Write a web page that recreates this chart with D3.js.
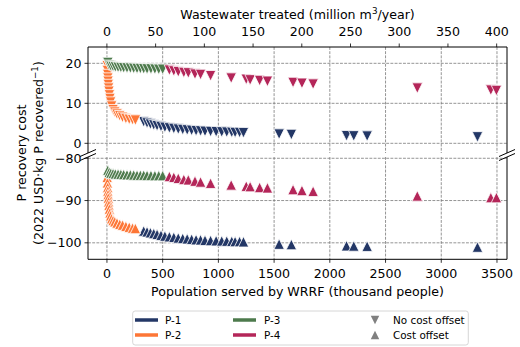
<!DOCTYPE html>
<html>
<head>
<meta charset="utf-8">
<script src="https://cdn.jsdelivr.net/npm/d3@7"></script>
<style>
  html, body { margin: 0; padding: 0; background: #fff; }
  svg text { font-family: "DejaVu Sans", sans-serif; fill: #000; }
</style>
</head>
<body>
<svg id="chart" width="520" height="347"></svg>
<script>
// Technology colours and legend labels
const techNames = ["P-1", "P-2", "P-3", "P-4"];
const techColors = ["#233766", "#fd7636", "#4d7a4c", "#b42659"];

// Population served (thousand people) per facility, by technology
const popP1 = [330, 360, 390, 420, 450, 485, 520, 560, 600, 640, 680, 720, 760, 800, 840, 880, 930, 980, 1030, 1075, 1120, 1150, 1190, 1225, 1545, 1655, 2150, 2215, 2335, 3325];
const popP2 = [2, 4, 6, 8, 10, 12, 15, 18, 22, 27, 33, 42, 55, 70, 90, 115, 140, 170, 200, 230, 255];
const popP3 = [8, 20, 35, 55, 75, 100, 125, 150, 180, 210, 240, 270, 300, 330, 360, 395, 430, 465, 500];
const popP4 = [560, 600, 640, 690, 730, 790, 840, 930, 1115, 1250, 1285, 1370, 1440, 1670, 1750, 1850, 2785, 3445, 3495];

// P recovery cost without cost offset (2022 USD per kg P)
const costP1 = [5.4, 5.1, 4.8, 4.6, 4.4, 4.2, 4.0, 3.85, 3.7, 3.55, 3.45, 3.35, 3.25, 3.15, 3.1, 3.0, 2.95, 2.9, 2.85, 2.8, 2.75, 2.7, 2.7, 2.65, 2.3, 2.2, 1.9, 1.85, 1.8, 1.6];
const costP2 = [19.4, 18.2, 17.2, 16.3, 15.5, 14.7, 13.8, 13.0, 12.1, 11.2, 10.3, 9.3, 8.4, 7.8, 7.3, 6.9, 6.5, 6.2, 6.0, 5.9, 5.8];
const costP3 = [20.2, 19.5, 19.3, 19.2, 19.1, 19.0, 18.95, 18.9, 18.85, 18.8, 18.75, 18.7, 18.7, 18.65, 18.6, 18.6, 18.55, 18.5, 18.5];
const costP4 = [18.3, 18.1, 17.9, 17.7, 17.6, 17.3, 17.2, 16.9, 16.3, 16.0, 15.85, 15.7, 15.5, 15.2, 15.0, 14.8, 13.8, 13.3, 13.2];

// P recovery cost with cost offset (2022 USD per kg P)
const offsetP1 = [-97.2, -97.4, -97.6, -97.8, -98.0, -98.2, -98.4, -98.55, -98.7, -98.85, -98.95, -99.05, -99.15, -99.25, -99.3, -99.4, -99.45, -99.5, -99.55, -99.6, -99.65, -99.7, -99.7, -99.75, -100.3, -100.4, -100.7, -100.75, -100.8, -101.0];
const offsetP2 = [-84.5, -85.8, -86.9, -87.8, -88.6, -89.4, -90.3, -91.1, -92.0, -92.9, -93.6, -94.3, -94.7, -95.0, -95.3, -95.6, -95.8, -96.1, -96.3, -96.5, -96.6];
const offsetP3 = [-82.8, -83.3, -83.5, -83.6, -83.7, -83.75, -83.8, -83.85, -83.9, -83.9, -83.95, -84.0, -84.0, -84.0, -84.05, -84.05, -84.1, -84.1, -84.1];
const offsetP4 = [-84.3, -84.5, -84.75, -85.0, -85.1, -85.4, -85.6, -85.9, -86.3, -86.6, -86.7, -86.9, -87.0, -87.4, -87.6, -87.8, -88.9, -89.3, -89.3];

// Axis ticks
const popTicks = [0, 500, 1000, 1500, 2000, 2500, 3000, 3500];
const flowTicks = [0, 50, 100, 150, 200, 250, 300, 350, 400];
const upperTicks = [0, 10, 20];
const lowerTicks = [-100, -90, -80];

const pops = [popP1, popP2, popP3, popP4];
const costs = [costP1, costP2, costP3, costP4];
const offsets = [offsetP1, offsetP2, offsetP3, offsetP4];

const svg = d3.select("#chart");
const L = 88, R = 507;
const upTop = 47, upBot = 153, loTop = 157, loBot = 259.3;

const x = d3.scaleLinear().domain([-170, 3590]).range([L, R]);
const xFlow = d3.scaleLinear().domain([-19.4, 410.6]).range([L, R]);
const yUp = d3.scaleLinear().domain([-2.42, 24.08]).range([upBot, upTop]);
const yLo = d3.scaleLinear().domain([-103.9, -79.7]).range([loBot, loTop]);

const minus = s => String(s).replace("-", "\u2212");
const gridStyle = g => g.attr("stroke", "#7a7a7a").attr("stroke-width", 0.8).attr("stroke-dasharray", "2.9,1.3");

// Grid lines in both panels
[[upTop, upBot, yUp, upperTicks], [loTop, loBot, yLo, lowerTicks]].forEach(([t, b, ys, ticks]) => {
  const g = svg.append("g");
  g.selectAll("line.v").data(popTicks).join("line")
    .attr("x1", d => x(d)).attr("x2", d => x(d)).attr("y1", t).attr("y2", b).call(gridStyle);
  g.selectAll("line.h").data(ticks).join("line")
    .attr("x1", L).attr("x2", R).attr("y1", d => ys(d)).attr("y2", d => ys(d)).call(gridStyle);
});

// Triangle markers
const tri = (s, down) => {
  const h = s / 2;
  return down ? `M0,${h}L${-h},${-h}L${h},${-h}Z` : `M0,${-h}L${-h},${h}L${h},${h}Z`;
};
const mSize = 10.5;

const plot = svg.append("g");
techNames.forEach((name, i) => {
  const upData = pops[i].map((p, j) => [p, costs[i][j]]);
  const loData = pops[i].map((p, j) => [p, offsets[i][j]]);
  plot.append("g").selectAll("path").data(upData).join("path")
    .attr("d", tri(mSize, true))
    .attr("transform", d => `translate(${x(d[0])},${yUp(d[1])})`)
    .attr("fill", techColors[i]).attr("stroke", "#fff").attr("stroke-width", 0.8);
  plot.append("g").selectAll("path").data(loData).join("path")
    .attr("d", tri(mSize, false))
    .attr("transform", d => `translate(${x(d[0])},${yLo(d[1])})`)
    .attr("fill", techColors[i]).attr("stroke", "#fff").attr("stroke-width", 0.8);
});

// Frames (broken axis: no spine between the two panels)
svg.append("path").attr("d", `M${L},${upBot}V${upTop}H${R}V${upBot}`)
  .attr("fill", "none").attr("stroke", "#000").attr("stroke-width", 1);
svg.append("path").attr("d", `M${L},${loTop}V${loBot}H${R}V${loTop}`)
  .attr("fill", "none").attr("stroke", "#000").attr("stroke-width", 1);

// Break marks
[[L, upBot], [R, upBot], [L, loTop], [R, loTop]].forEach(([cx, cy]) => {
  svg.append("line").attr("x1", cx - 8).attr("y1", cy + 3.5).attr("x2", cx + 8).attr("y2", cy - 3.5)
    .attr("stroke", "#000").attr("stroke-width", 1);
});

const fs = 12.6;
// Y axes
[[yUp, upperTicks], [yLo, lowerTicks]].forEach(([ys, ticks]) => {
  const g = svg.append("g");
  g.selectAll("line").data(ticks).join("line")
    .attr("x1", L - 3.5).attr("x2", L).attr("y1", d => ys(d)).attr("y2", d => ys(d))
    .attr("stroke", "#000").attr("stroke-width", 0.8);
  g.selectAll("text").data(ticks).join("text")
    .attr("x", L - 6.5).attr("y", d => ys(d)).attr("dy", "0.36em")
    .attr("text-anchor", "end").attr("font-size", fs).text(d => minus(d));
});

// Bottom x axis: population
const bx = svg.append("g");
bx.selectAll("line").data(popTicks).join("line")
  .attr("x1", d => x(d)).attr("x2", d => x(d)).attr("y1", loBot).attr("y2", loBot + 3.5)
  .attr("stroke", "#000").attr("stroke-width", 0.8);
bx.selectAll("text").data(popTicks).join("text")
  .attr("x", d => x(d)).attr("y", 277.8).attr("text-anchor", "middle").attr("font-size", fs).text(d => d);
svg.append("text").attr("x", (L + R) / 2).attr("y", 296.3).attr("text-anchor", "middle")
  .attr("font-size", fs).text("Population served by WRRF (thousand people)");

// Top x axis: wastewater flow
const tx = svg.append("g");
tx.selectAll("line").data(flowTicks).join("line")
  .attr("x1", d => xFlow(d)).attr("x2", d => xFlow(d)).attr("y1", upTop - 3.5).attr("y2", upTop)
  .attr("stroke", "#000").attr("stroke-width", 0.8);
tx.selectAll("text").data(flowTicks).join("text")
  .attr("x", d => xFlow(d)).attr("y", 36.3).attr("text-anchor", "middle").attr("font-size", fs).text(d => d);
const tt = svg.append("text").attr("x", (L + R) / 2).attr("y", 19.3).attr("text-anchor", "middle").attr("font-size", fs);
tt.append("tspan").text("Wastewater treated (million m");
tt.append("tspan").attr("font-size", 8.8).attr("dy", -5).text("3");
tt.append("tspan").attr("dy", 5).text("/year)");

// Y axis title (two lines)
const yl = svg.append("g").attr("transform", `translate(0,153) rotate(-90)`);
yl.append("text").attr("x", 0).attr("y", 26.3).attr("text-anchor", "middle").attr("font-size", fs).text("P recovery cost");
const yl2 = yl.append("text").attr("x", 0).attr("y", 42.5).attr("text-anchor", "middle").attr("font-size", fs);
yl2.append("tspan").text("(2022 USD\u00b7kg P recovered");
yl2.append("tspan").attr("font-size", 8.8).attr("dy", -5).text("\u22121");
yl2.append("tspan").attr("dy", 5).text(")");

// Legend
const lg = svg.append("g");
lg.append("rect").attr("x", 132.7).attr("y", 311).attr("width", 335.6).attr("height", 34).attr("rx", 2.5)
  .attr("fill", "#fff").attr("stroke", "#cccccc").attr("stroke-width", 0.8);
const lgFs = 10.4;
const lgCols = [[135, 165], [233, 264]];
techNames.forEach((name, i) => {
  const col = lgCols[Math.floor(i / 2)];
  const yy = i % 2 === 0 ? 320 : 335;
  lg.append("line").attr("x1", col[0]).attr("x2", col[0] + 23).attr("y1", yy).attr("y2", yy)
    .attr("stroke", techColors[i]).attr("stroke-width", 3.5);
  lg.append("text").attr("x", col[1]).attr("y", yy).attr("dy", "0.36em").attr("font-size", lgFs).text(name);
});
[["No cost offset", true, 320], ["Cost offset", false, 335]].forEach(([label, down, yy]) => {
  lg.append("path").attr("d", tri(8.5, down)).attr("transform", `translate(375,${yy})`).attr("fill", "#808080");
  lg.append("text").attr("x", 393).attr("y", yy).attr("dy", "0.36em").attr("font-size", lgFs).text(label);
});
</script>
</body>
</html>
